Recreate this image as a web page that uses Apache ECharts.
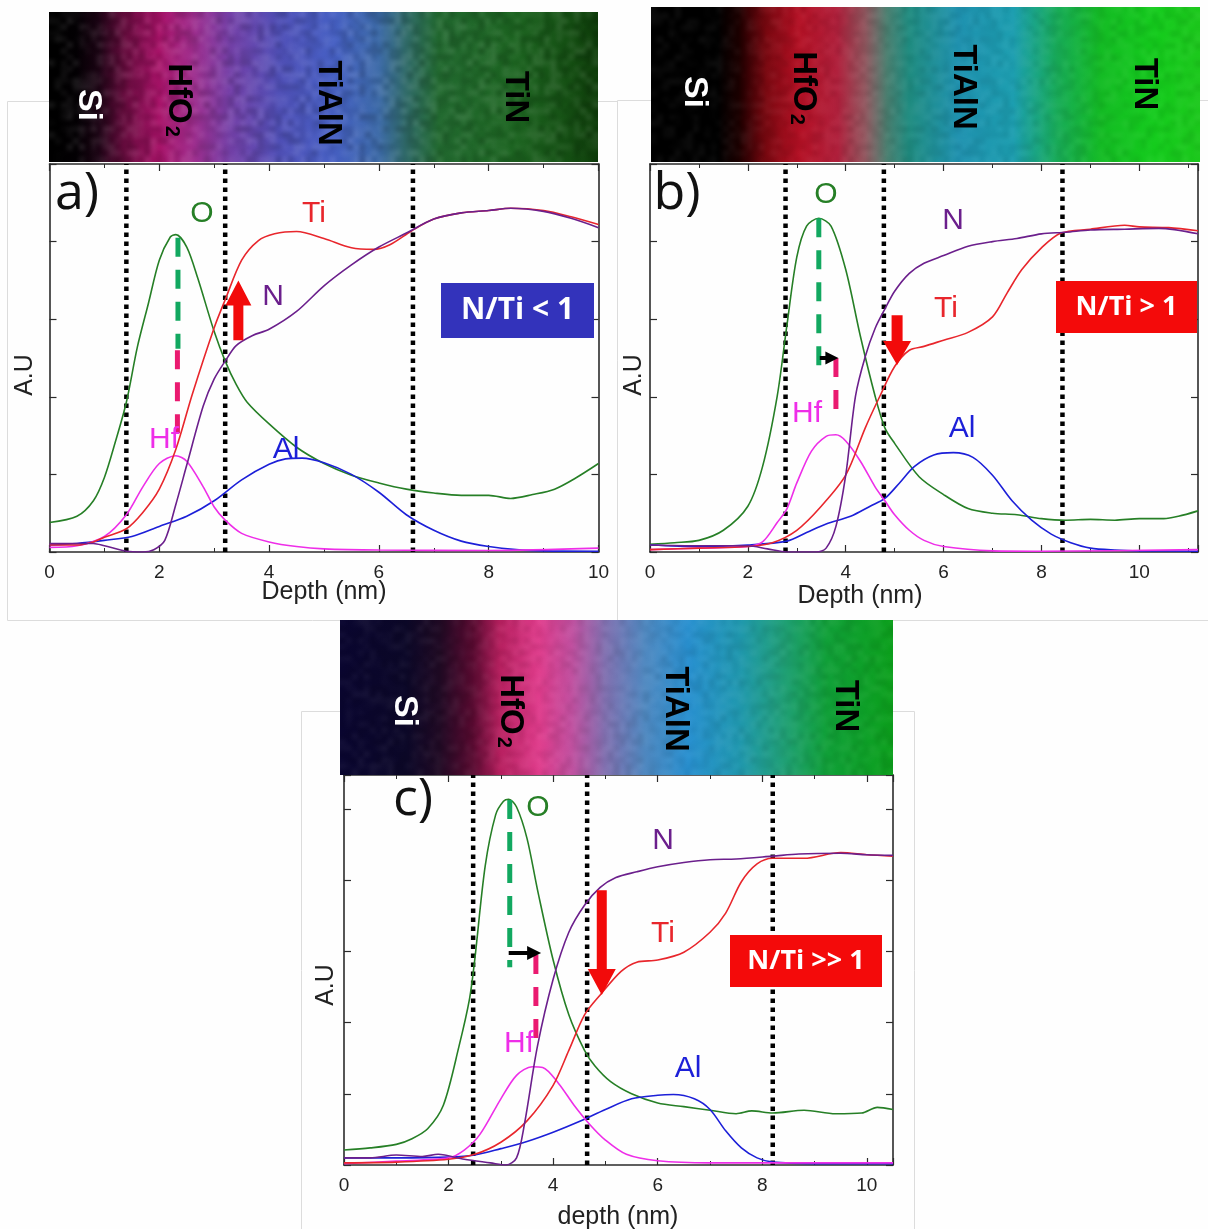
<!DOCTYPE html>
<html><head><meta charset="utf-8">
<style>html,body{margin:0;padding:0;background:#fefefe}#c{width:1208px;height:1229px}</style>
<script src="https://cdn.jsdelivr.net/npm/echarts@6/dist/echarts.min.js"></script>
</head><body><div id="c"></div>
<script>
// Panel a
const aO=[[0,.38],[.5,.46],[.8,.66],[1,.96],[1.2,1.42],[1.4,1.93],[1.6,2.64],[1.8,3.2],[2,3.76],[2.2,4.06],[2.3,4.09],[2.5,3.93],[2.7,3.53],[3,2.84],[3.2,2.46],[3.4,2.16],[3.6,1.93],[4,1.65],[4.5,1.35],[5,1.14],[5.5,.99],[6,.89],[6.5,.81],[7,.76],[7.5,.73],[8,.73],[8.4,.69],[8.8,.74],[9.2,.81],[9.6,.96],[10,1.14]];
const aTi=[[0,.09],[.5,.09],[.8,.13],[1,.19],[1.4,.3],[1.7,.51],[2,.81],[2.3,1.32],[2.6,2.03],[3,2.89],[3.2,3.25],[3.5,3.76],[3.8,4.01],[4.1,4.1],[4.5,4.13],[5,4.04],[5.5,3.92],[5.9,3.9],[6.2,3.96],[6.6,4.14],[7,4.29],[7.5,4.37],[8,4.4],[8.4,4.43],[9,4.4],[9.5,4.32],[10,4.22]];
const aN=[[0,.11],[.8,.11],[1,.08],[1.4,.01],[1.7,0],[1.9,.03],[2.1,.15],[2.3,.61],[2.5,1.12],[2.8,1.88],[3,2.23],[3.2,2.46],[3.4,2.66],[3.7,2.79],[4,2.87],[4.5,3.1],[5,3.43],[5.5,3.7],[6,3.93],[6.5,4.11],[7,4.29],[7.5,4.37],[8,4.4],[8.4,4.43],[9,4.39],[9.5,4.3],[10,4.18]];
const aHf=[[0,.06],[.5,.08],[1,.2],[1.4,.48],[1.7,.84],[2,1.14],[2.3,1.24],[2.5,1.17],[2.8,.84],[3,.58],[3.2,.41],[3.5,.24],[4,.13],[4.5,.07],[5,.04],[6,.025],[8,.02],[10,.05]];
const aAl=[[0,.09],[.5,.11],[1,.15],[1.5,.2],[2,.33],[2.5,.46],[3,.66],[3.5,.93],[4,1.13],[4.3,1.2],[4.6,1.21],[5,1.15],[5.5,1],[6,.77],[6.5,.48],[7,.28],[7.5,.14],[8,.07],[8.5,.03],[9,.015],[10,.01]];
// Panel b
const bO=[[0,.1],[.5,.12],[1,.15],[1.5,.28],[2,.59],[2.3,1.1],[2.6,2.01],[2.8,2.93],[3,3.8],[3.2,4.2],[3.45,4.3],[3.7,4.2],[4,3.64],[4.3,2.78],[4.6,2.01],[4.8,1.6],[5,1.4],[5.5,.97],[6,.74],[6.5,.56],[7,.5],[7.5,.48],[8,.43],[8.5,.41],[9,.42],[9.5,.41],[10,.43],[10.5,.43],[10.8,.46],[11.2,.53]];
const bTi=[[0,.03],[1,.05],[2,.07],[2.5,.12],[3,.28],[3.5,.59],[4,.99],[4.4,1.6],[4.7,2.01],[5,2.39],[5.3,2.6],[5.6,2.65],[6,2.73],[6.5,2.83],[7,3.03],[7.3,3.34],[7.6,3.64],[8,3.92],[8.4,4.11],[9,4.16],[9.7,4.21],[10,4.19],[10.6,4.18],[11.2,4.14]];
const bN=[[0,.09],[1,.08],[2,.08],[2.4,.04],[2.8,0],[3.4,0],[3.6,.05],[3.8,.33],[4,.99],[4.2,2.01],[4.4,2.52],[4.6,2.88],[4.8,3.13],[5,3.36],[5.3,3.59],[5.6,3.72],[6,3.82],[6.5,3.94],[7,4],[7.5,4.04],[8,4.1],[8.5,4.12],[9,4.15],[9.7,4.16],[10.4,4.17],[11.2,4.1]];
const bHf=[[0,.03],[1,.05],[2,.07],[2.3,.13],[2.6,.38],[2.8,.56],[3,.89],[3.3,1.3],[3.6,1.49],[3.8,1.51],[4,1.43],[4.3,1.17],[4.6,.84],[4.8,.66],[5,.48],[5.3,.28],[5.6,.15],[6,.07],[7,.015],[8,.01],[11.2,.03]];
const bAl=[[0,.09],[1,.07],[2,.09],[2.8,.14],[3.2,.25],[3.6,.36],[4.1,.46],[4.5,.59],[4.8,.69],[5.1,.89],[5.4,1.1],[5.8,1.25],[6.2,1.28],[6.6,1.22],[7,.99],[7.4,.66],[7.8,.41],[8.2,.23],[8.6,.12],[9,.05],[9.5,.025],[10,.015],[11.2,.01]];
// Panel c
const cO=[[0,.21],[.5,.24],[1,.29],[1.3,.37],[1.6,.51],[1.9,.84],[2.2,1.67],[2.4,2.33],[2.5,2.88],[2.7,4.2],[2.9,4.92],[3.05,5.11],[3.15,5.14],[3.3,5.03],[3.5,4.59],[3.7,3.87],[4,2.88],[4.3,2.11],[4.6,1.61],[4.8,1.39],[5.1,1.17],[5.5,1],[6,.87],[6.5,.82],[7,.77],[7.5,.72],[7.8,.76],[8.2,.73],[8.8,.77],[9.4,.72],[9.9,.73],[10.2,.81],[10.5,.78]];
const cTi=[[0,.03],[1,.04],[2,.08],[2.5,.15],[3,.32],[3.5,.62],[4,1.12],[4.3,1.61],[4.6,2.11],[4.9,2.39],[5.3,2.72],[5.6,2.85],[6,2.88],[6.5,2.99],[7,3.27],[7.3,3.54],[7.6,3.98],[7.9,4.23],[8.2,4.31],[8.8,4.31],[9.5,4.39],[10,4.36],[10.5,4.34]];
const cN=[[0,.1],[.5,.1],[1,.14],[1.5,.12],[1.8,.15],[2.3,.08],[2.8,.03],[3.1,0],[3.3,.1],[3.45,.57],[3.7,1.67],[4,2.61],[4.3,3.27],[4.6,3.65],[4.9,3.9],[5.2,4.04],[5.6,4.12],[6,4.19],[6.5,4.25],[7,4.29],[7.5,4.3],[8.2,4.34],[8.7,4.37],[9.5,4.38],[10,4.36],[10.5,4.35]];
const cHf=[[0,.02],[1,.055],[2,.1],[2.3,.21],[2.6,.43],[3,.93],[3.3,1.26],[3.6,1.38],[3.8,1.37],[4.1,1.15],[4.4,.84],[4.7,.57],[5,.35],[5.4,.15],[6,.06],[7,.03],[10.5,.03]];
const cAl=[[0,.1],[1,.1],[2,.11],[2.5,.14],[3,.23],[3.5,.33],[4,.46],[4.5,.61],[5,.78],[5.5,.93],[6,.98],[6.3,.99],[6.7,.93],[7,.78],[7.3,.48],[7.6,.24],[7.9,.1],[8.2,.04],[9,.02],[10.5,.02]];
// Interface positions
const aBounds=[1.4,3.2,6.62], bBounds=[2.77,4.78,8.43], cBounds=[2.47,4.65,8.2];
const xMaxes={a:10,b:11.2,c:10.5}, yTops={a:5,b:5,c:5.48};

const colors={O:'#267f26',Ti:'#e8262c',N:'#6b1f8c',Hf:'#ee2ee8',Al:'#1c1fd8'};
const panels=[
 {id:'a',grid:{left:49.5,top:164,width:549,height:388},xMax:xMaxes.a,yMax:yTops.a,curves:{O:aO,Al:aAl,Hf:aHf,Ti:aTi,N:aN},bounds:aBounds,
  green:[2.34,4.05,2.62],pink:[2.33,2.6,1.38],red:[3.44,2.73,3.44,3.5,10,26,25],black:null},
 {id:'b',grid:{left:650,top:164,width:548,height:388},xMax:xMaxes.b,yMax:yTops.b,curves:{O:bO,Al:bAl,Hf:bHf,Ti:bTi,N:bN},bounds:bBounds,
  green:[3.45,4.3,2.34],pink:[3.8,2.5,1.72],red:[5.05,3.05,5.05,2.41,11,28,24],black:[3.47,2.5,3.85,2.5,4,13,13]},
 {id:'c',grid:{left:344,top:775,width:549,height:390},xMax:xMaxes.c,yMax:yTops.c,curves:{O:cO,Al:cAl,Hf:cHf,Ti:cTi,N:cN},bounds:cBounds,
  green:[3.17,5.13,2.78],pink:[3.67,2.95,1.62],red:[4.93,3.86,4.93,2.39,10,28,26],black:[3.15,2.98,3.77,2.98,4,14,14]}
];

const axisStroke={show:true,onZero:false,lineStyle:{color:'#2b2b2b',width:1.6}};
const grids=[],xAxes=[],yAxes=[],series=[];
function arrowSeries(i,vals,color){
  const [x0,v0,x1,v1,shaft,head,hl]=vals;
  return {type:'custom',xAxisIndex:i*2,yAxisIndex:i*2,silent:true,z:6,clip:false,
    data:[[x0,v0,x1,v1]],encode:{x:[0,2],y:[1,3]},
    renderItem:function(p,api){
      const a=api.coord([api.value(0),api.value(1)]),b=api.coord([api.value(2),api.value(3)]);
      const L=Math.hypot(b[0]-a[0],b[1]-a[1]),ux=(b[0]-a[0])/L,uy=(b[1]-a[1])/L,nx=-uy,ny=ux;
      const nk=[b[0]-ux*hl,b[1]-uy*hl];
      return {type:'polygon',shape:{points:[
        [a[0]+nx*shaft/2,a[1]+ny*shaft/2],[nk[0]+nx*shaft/2,nk[1]+ny*shaft/2],
        [nk[0]+nx*head/2,nk[1]+ny*head/2],b,
        [nk[0]-nx*head/2,nk[1]-ny*head/2],[nk[0]-nx*shaft/2,nk[1]-ny*shaft/2],
        [a[0]-nx*shaft/2,a[1]-ny*shaft/2]]},style:{fill:color}};
    }};
}
panels.forEach((p,i)=>{
  grids.push(p.grid);
  const lab={color:'#222',fontFamily:'Liberation Sans',fontSize:19,margin:11,showMaxLabel:p.xMax===10};
  xAxes.push({type:'value',gridIndex:i,position:'bottom',min:0,max:p.xMax,interval:2,axisLine:axisStroke,splitLine:{show:false},
    axisTick:{inside:true,length:7,lineStyle:{color:'#2b2b2b',width:1.2}},
    minorTick:{show:true,splitNumber:2,length:4,lineStyle:{color:'#2b2b2b',width:1}},axisLabel:lab});
  xAxes.push({type:'value',gridIndex:i,position:'top',min:0,max:p.xMax,interval:2,axisLine:axisStroke,splitLine:{show:false},
    axisTick:{inside:true,length:7,lineStyle:{color:'#2b2b2b',width:1.2}},
    minorTick:{show:true,splitNumber:2,length:4,lineStyle:{color:'#2b2b2b',width:1}},axisLabel:{show:false}});
  [ 'left','right' ].forEach(pos=>yAxes.push({type:'value',gridIndex:i,position:pos,min:0,max:p.yMax,interval:1,axisLine:axisStroke,splitLine:{show:false},
    axisTick:{inside:true,length:7,lineStyle:{color:'#2b2b2b',width:1.2}},axisLabel:{show:false}}));
  const xi=i*2,yi=i*2;
  p.bounds.forEach(x=>series.push({type:'line',xAxisIndex:xi,yAxisIndex:yi,data:[[x,0],[x,p.yMax]],symbol:'none',silent:true,z:3,
    lineStyle:{color:'#000',width:4.5,type:[4.5,4.5]}}));
  Object.keys(p.curves).forEach(k=>series.push({type:'line',name:k,xAxisIndex:xi,yAxisIndex:yi,data:p.curves[k],symbol:'none',
    smooth:.3,silent:true,z:4,lineStyle:{color:colors[k],width:1.6}}));
  series.push({type:'line',xAxisIndex:xi,yAxisIndex:yi,data:[[p.green[0],p.green[1]],[p.green[0],p.green[2]]],symbol:'none',silent:true,z:5,
    lineStyle:{color:'#12a860',width:5,type:[19,13]}});
  series.push({type:'line',xAxisIndex:xi,yAxisIndex:yi,data:[[p.pink[0],p.pink[1]],[p.pink[0],p.pink[2]]],symbol:'none',silent:true,z:5,
    lineStyle:{color:'#ea1a70',width:5,type:[19,13]}});
  series.push(arrowSeries(i,p.red,'#f20a0a'));
  if(p.black) series.push(arrowSeries(i,p.black,'#000'));
});

// decoration
const SANS='Liberation Sans', CAL='Open Sans';
function txt(t,x,y,font,fill,rot){return {type:'text',x,y,rotation:rot||0,z:30,silent:true,
   style:{text:t,x:0,y:0,font,fill,align:'center',verticalAlign:'middle'}};}
const labelTexts=[
 ['a)',77,194],['b)',677,194],['c)',413,800]
].map(a=>txt(a[0],a[1],a[2],'52px "'+CAL+'"','#111'));
const curveLabels=[
 ['O',202,214,'O'],['Ti',314,214,'Ti'],['N',273,297,'N'],['Hf',164,440,'Hf'],['Al',286,450,'Al'],
 ['O',826,195,'O'],['N',953,221,'N'],['Ti',946,309,'Ti'],['Hf',807,414,'Hf'],['Al',962,429,'Al'],
 ['O',538,808,'O'],['N',663,841,'N'],['Ti',663,934,'Ti'],['Hf',519,1044,'Hf'],['Al',688,1069,'Al']
].map(a=>txt(a[0],a[1],a[2],'30px "'+SANS+'"',colors[a[3]]));
const axisTitles=[
 ['Depth (nm)',324,592,0],['Depth (nm)',860,596,0],['depth (nm)',618,1217,0],
 ['A.U',25,375,Math.PI/2],['A.U',634,375,Math.PI/2],['A.U',326,985,Math.PI/2]
].map(a=>txt(a[0],a[1],a[2],'25px "'+SANS+'"','#222',a[3]));
const strips=[
 {x:49,y:12,w:549,h:150,stops:[[0,'#000'],[.05,'#040104'],[.09,'#1c0414'],[.14,'#6a0c40'],[.2,'#a81268'],[.26,'#a02c8c'],[.33,'#7440a8'],[.42,'#5050b8'],[.52,'#4660c4'],[.6,'#3c6aa8'],[.65,'#2f6a68'],[.71,'#226a30'],[.85,'#1c6420'],[.95,'#144e12'],[1,'#0e3d0a']],tex:.16,
  labels:[['Si',88,105,'#fff',34],['TiAlN',328,103,'#000',33],['TiN',515,97,'#000',33]],hf:[178,100]},
 {x:651,y:7,w:549,h:155,stops:[[0,'#000'],[.12,'#000'],[.16,'#1c0000'],[.21,'#7a0810'],[.27,'#b41024'],[.34,'#b0203c'],[.39,'#925860'],[.43,'#4a7f70'],[.47,'#1f8c80'],[.56,'#1f92b0'],[.66,'#1c9eb0'],[.74,'#18ac58'],[.82,'#14bc24'],[.92,'#14cc1c'],[1,'#1cc81c']],tex:.08,
  labels:[['Si',694,92,'#fff',34],['TiAlN',963,87,'#000',33],['TiN',1144,84,'#000',33]],hf:[803,88]},
 {x:340,y:620,w:553,h:155,stops:[[0,'#0a0630'],[.12,'#0c0828'],[.18,'#200a24'],[.24,'#580a30'],[.29,'#b82060'],[.36,'#e03c8c'],[.42,'#c050a0'],[.48,'#8070b0'],[.55,'#5088c0'],[.63,'#2890d0'],[.72,'#2098b0'],[.8,'#20a078'],[.88,'#10a038'],[1,'#0ca01c']],tex:.08,
  labels:[['Si',404,711,'#fff',34],['TiAlN',675,709,'#000',33],['TiN',845,706,'#000',33]],hf:[510,711]}
];
function mottle(w,h,seed,amp){
  const cell=6,sw=Math.ceil(w/cell),sh=Math.ceil(h/cell);
  const s=document.createElement('canvas');s.width=sw;s.height=sh;const g=s.getContext('2d');
  const hash=(i,j)=>{const v=Math.sin(i*12.9898+j*78.233+seed)*43758.5453;return v-Math.floor(v);};
  for(let i=0;i<sw;i++)for(let j=0;j<sh;j++){const n=hash(i,j);
    g.fillStyle=n>.5?'rgba(255,255,255,'+((n-.5)*amp*1.2)+')':'rgba(0,0,0,'+((.5-n)*amp*2)+')';g.fillRect(i,j,1,1);}
  const c=document.createElement('canvas');c.width=w;c.height=h;const k=c.getContext('2d');
  k.imageSmoothingEnabled=true;k.imageSmoothingQuality='high';k.drawImage(s,0,0,w,h);return c;
}
const stripEls=[];
strips.forEach((s,i)=>{
  stripEls.push({type:'rect',z:20,silent:true,shape:{x:s.x,y:s.y,width:s.w,height:s.h},
    style:{fill:new echarts.graphic.LinearGradient(0,0,1,0,s.stops.map(t=>({offset:t[0],color:t[1]})))}});
  stripEls.push({type:'image',z:21,silent:true,style:{image:mottle(s.w,s.h,i*7+1,s.tex),x:s.x,y:s.y,width:s.w,height:s.h}});
  s.labels.forEach(l=>stripEls.push(txt(l[0],l[1],l[2],'bold '+l[4]+'px "'+SANS+'"',l[3],-Math.PI/2)));
  stripEls.push({type:'text',x:s.hf[0],y:s.hf[1],rotation:-Math.PI/2,z:30,silent:true,style:{
    text:'{m|HfO}{s|2}',x:0,y:0,align:'center',verticalAlign:'middle',fill:'#000',
    rich:{m:{font:'bold 33px "'+SANS+'"',fill:'#000'},s:{font:'bold 20px "'+SANS+'"',fill:'#000',padding:[12,0,0,2]}}}});
});
const badges=[
 {x:441,y:283,w:153,h:55,fill:'#3333bb',t:'N/Ti < 1',fs:30},
 {x:1056,y:281,w:141,h:52,fill:'#f40a0a',t:'N/Ti > 1',fs:27},
 {x:730,y:935,w:152,h:52,fill:'#f40a0a',t:'N/Ti >> 1',fs:27}
];
const badgeEls=[];
badges.forEach(b=>{badgeEls.push({type:'rect',z:25,silent:true,shape:{x:b.x,y:b.y,width:b.w,height:b.h},style:{fill:b.fill}});
  badgeEls.push(txt(b.t,b.x+b.w/2,b.y+b.h/2,'bold '+b.fs+'px "Open Sans"','#fff'));});
const frames=[[7,101,610,519],[617,100,591,520],[301,711,613,518]].map(f=>({type:'rect',z:-1,silent:true,
  shape:{x:f[0]+.5,y:f[1]+.5,width:f[2],height:f[3]},style:{fill:'#fefefe',stroke:'#dcdcdc',lineWidth:1}}));

const chart=echarts.init(document.getElementById('c'),null,{renderer:'canvas',width:1208,height:1229});
chart.setOption({animation:false,backgroundColor:'#fefefe',grid:grids,xAxis:xAxes,yAxis:yAxes,series,
  graphic:{elements:[...frames,...stripEls,...labelTexts,...curveLabels,...axisTitles,...badgeEls]}});
</script></body></html>
